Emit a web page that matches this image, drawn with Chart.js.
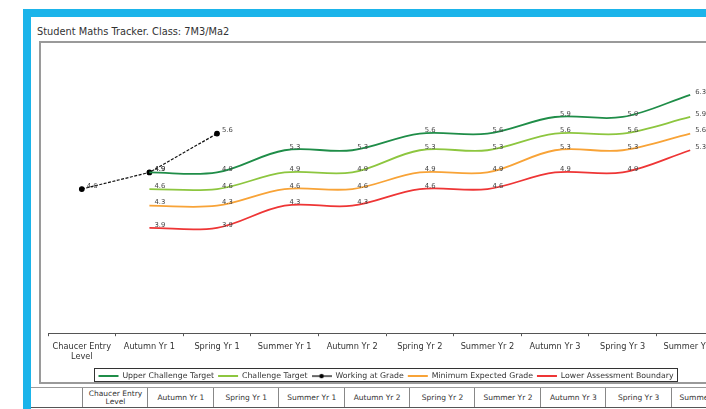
<!DOCTYPE html>
<html><head><meta charset="utf-8">
<script src="https://cdn.jsdelivr.net/npm/chart.js@4.4.0/dist/chart.umd.min.js"></script>
<style>
html,body{margin:0;padding:0;}
body{width:706px;height:409px;overflow:hidden;position:relative;background:#fff;font-family:"DejaVu Sans",Verdana,sans-serif;}
#blue{position:absolute;left:23px;top:9px;width:800px;height:500px;background:#1bb4ea;}
#inner{position:absolute;left:31px;top:17px;width:800px;height:500px;background:#fff;}
#title{position:absolute;left:37px;top:26px;font-size:9.8px;color:#333;white-space:nowrap;}
#frame{position:absolute;left:39px;top:41px;width:800px;height:339px;border:2px solid #9a9a9a;border-right:none;}
#cw{position:absolute;left:41px;top:43px;width:690px;height:348px;}
#tline{position:absolute;left:31px;top:387px;width:700px;height:0;border-top:1px solid #9a9a9a;}
#bline{position:absolute;left:31px;top:407px;width:700px;height:0;border-top:1px solid #555;}
.cell{position:absolute;top:388px;height:19px;border-left:1px solid #888;font-size:7.5px;color:#333;text-align:center;display:flex;align-items:center;justify-content:center;line-height:8px;}
</style></head>
<body>
<div id="blue"></div><div id="inner"></div>
<div id="title">Student Maths Tracker. Class: 7M3/Ma2</div>
<div id="frame"></div>
<div id="tline"></div><div id="bline"></div>
<div id="table"></div>
<div id="cw"><canvas id="c" width="690" height="348"></canvas></div>
<script>
const categories = [['Chaucer Entry','Level'],'Autumn Yr 1','Spring Yr 1','Summer Yr 1','Autumn Yr 2','Spring Yr 2','Summer Yr 2','Autumn Yr 3','Spring Yr 3','Summer Yr 3'];
const upperChallenge = [null,4.9,4.9,5.3,5.3,5.6,5.6,5.9,5.9,6.3];
const challenge      = [null,4.6,4.6,4.9,4.9,5.3,5.3,5.6,5.6,5.9];
const workingAtGrade = [4.6,4.9,5.6,null,null,null,null,null,null,null];
const minimumExpected= [null,4.3,4.3,4.6,4.6,4.9,4.9,5.3,5.3,5.6];
const lowerBoundary  = [null,3.9,3.9,4.3,4.3,4.6,4.6,4.9,4.9,5.3];
const seriesNames = ['Upper Challenge Target','Challenge Target','Working at Grade','Minimum Expected Grade','Lower Assessment Boundary'];

// table under chart
const tbl = document.getElementById('table');
categories.forEach((c,i)=>{
  const d = document.createElement('div');
  d.className='cell';
  d.style.left = (82 + i*65.4)+'px';
  d.style.width = '65px';
  d.innerHTML = Array.isArray(c) ? c[0]+'<br>'+c[1] : c;
  tbl.appendChild(d);
});

// legend image for working at grade
const wimg = document.createElement('canvas');
wimg.width = 20; wimg.height = 8;
(function(){const g=wimg.getContext('2d');g.strokeStyle='#000';g.lineWidth=1.2;g.beginPath();g.moveTo(0,4);g.lineTo(20,4);g.stroke();g.fillStyle='#000';g.beginPath();g.arc(10,4,2.2,0,Math.PI*2);g.fill();})();

const labelPlugin = {
  id:'vlabels',
  afterDatasetsDraw(chart){
    const ctx = chart.ctx;
    ctx.save();
    ctx.font = '6.8px "DejaVu Sans"';
    ctx.fillStyle = '#444';
    ctx.textBaseline = 'middle';
    chart.data.datasets.forEach((ds,di)=>{
      const meta = chart.getDatasetMeta(di);
      meta.data.forEach((p,i)=>{
        const v = ds.data[i];
        if(v===null) return;
        ctx.fillText(v.toFixed(1), p.x+5, p.y-3);
      });
    });
    ctx.restore();
  }
};
const legendBox = {
  id:'legendBox',
  afterDraw(chart){
    const lg = chart.legend; if(!lg || !lg.legendHitBoxes.length) return;
    const hb = lg.legendHitBoxes;
    let l=Infinity,r=-Infinity,t=Infinity,b=-Infinity;
    hb.forEach(h=>{l=Math.min(l,h.left);r=Math.max(r,h.left+h.width);t=Math.min(t,h.top);b=Math.max(b,h.top+h.height);});
    const ctx=chart.ctx; ctx.save(); ctx.strokeStyle='#333'; ctx.lineWidth=1;
    ctx.strokeRect(Math.round(l-5)+0.5, Math.round(t-4)+0.5, Math.round(r-l+8), Math.round(b-t+5));
    ctx.restore();
  }
};

const mk = (label,data,color,extra)=>Object.assign({label,data,borderColor:color,backgroundColor:color,borderWidth:1.8,pointRadius:0,tension:0.35,fill:false,spanGaps:false},extra||{});

new Chart(document.getElementById('c'),{
  type:'line',
  data:{labels:categories,datasets:[
    mk(seriesNames[0],upperChallenge,'#1f8d48'),
    mk(seriesNames[1],challenge,'#8dc63f'),
    mk(seriesNames[2],workingAtGrade,'#111',{borderWidth:1.2,borderDash:[3,1.5],tension:0,pointRadius:2.3,pointBackgroundColor:'#000',pointBorderColor:'#000'}),
    mk(seriesNames[3],minimumExpected,'#f8a337'),
    mk(seriesNames[4],lowerBoundary,'#ee3535')
  ]},
  options:{
    responsive:false,animation:false,
    layout:{padding:{left:7,right:7,top:13,bottom:1}},
    scales:{
      x:{offset:true,
        grid:{display:true,drawOnChartArea:false,drawTicks:true,tickLength:3,color:'#555',offset:true},
        border:{display:true,color:'#555',width:1},
        ticks:{font:{family:'DejaVu Sans',size:8.2},color:'#333',padding:6,maxRotation:0,autoSkip:false},
        afterFit(s){s.height=35;}
      },
      y:{display:false,min:2,max:7}
    },
    plugins:{
      tooltip:{enabled:false},
      legend:{position:'bottom',
        labels:{font:{family:'DejaVu Sans',size:7.8},color:'#333',usePointStyle:true,pointStyleWidth:20,boxHeight:8,padding:4,
          generateLabels(chart){
            const items = Chart.defaults.plugins.legend.labels.generateLabels(chart);
            items.forEach((it,i)=>{ if(i===2){it.pointStyle=wimg;it.lineDash=[];} else {it.pointStyle='line'; it.lineWidth=2;} });
            return items;
          }}
      }
    }
  },
  plugins:[labelPlugin,legendBox]
});
</script>
</body></html>
